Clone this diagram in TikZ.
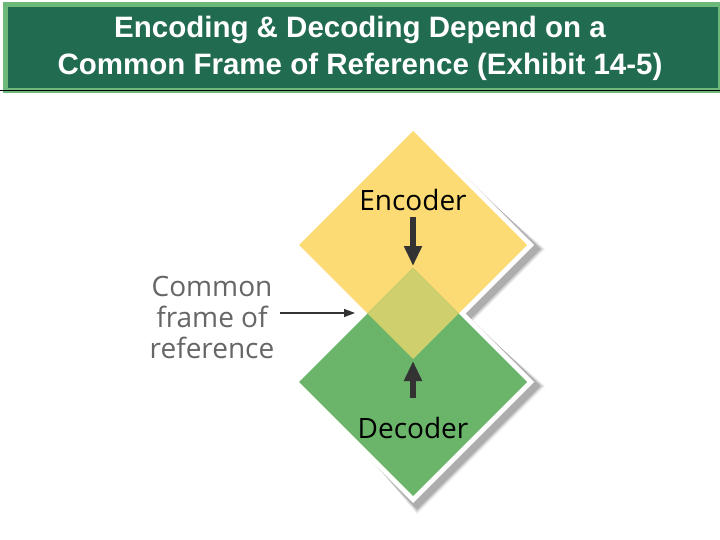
\documentclass[tikz,border=0pt]{standalone}
\usepackage{fontspec}
\setmainfont{Liberation Sans}
\newfontfamily\labfont{Open Sans}
\usetikzlibrary{arrows.meta}
\definecolor{hdark}{HTML}{216B50}
\definecolor{hlight}{HTML}{6DB97A}
\definecolor{ylw}{HTML}{FDDB74}
\definecolor{grn}{HTML}{6AB56A}
\definecolor{ovl}{HTML}{CFCF6E}
\definecolor{arr}{HTML}{333333}
\tikzset{
  lab/.style={font=\labfont\fontsize{28}{32}\selectfont, text=black, inner sep=0},
  side/.style={font=\labfont\fontsize{28}{32}\selectfont, text=black!60, align=center, inner sep=0},
  big/.style={-{Triangle[length=20pt,width=17pt]}, line width=6pt, draw=arr},
  thin/.style={-{Triangle[length=11pt,width=8pt]}, line width=1.2pt, draw=arr}
}
\begin{document}
\begin{tikzpicture}[x=1pt,y=-1pt]
\useasboundingbox (0,0) rectangle (720,540);
\fill[white] (0,0) rectangle (720,540);
% header
\node[draw=hlight, fill=hdark, line width=5pt, minimum width=715pt, minimum height=86pt, inner sep=0, anchor=north west] (hdr) at (2.5,2.5) {};
\draw[black, line width=1pt] (0,90.5) -- (720,90.5);
\node[font=\bfseries\fontsize{29.5}{37}\selectfont, text=white, align=center] (title) at (360,48) {Encoding \& Decoding Depend on a\\Common Frame of Reference (Exhibit 14-5)};
% soft shadows
\foreach \cy in {245,382}{
  \foreach \d/\o in {14/0.06,11/0.08,8/0.10,5/0.12}{
    \fill[black, opacity=\o] (417,\cy-121+\d) -- (538+\d/2,\cy+4) -- (417,\cy+125+\d/2) -- (296+\d,\cy+4) -- cycle;
  }
}
% white borders
\fill[white] (413,124) -- (534,245) -- (413,366) -- (292,245) -- cycle;
\fill[white] (413,261) -- (534,382) -- (413,503) -- (292,382) -- cycle;
% diamonds
\fill[ylw] (413,131) -- (527,245) -- (413,359) -- (299,245) -- cycle;
\fill[grn] (413,268) -- (527,382) -- (413,496) -- (299,382) -- cycle;
\fill[ovl] (413,268) -- (458.5,313.5) -- (413,359) -- (367.5,313.5) -- cycle;
\coordinate (otop) at (413,266);
\coordinate (obot) at (413,361);
\coordinate (oleft) at (355,313);
% labels
\node[lab] (enc) at (413,200) {Encoder};
\node[lab] (dec) at (413,428) {Decoder};
\node[side] (cf) at (212,317) {Common\\[-1pt]frame of\\[-1pt]reference};
\coordinate (cfr) at (280,313);
\draw[big] (413,217) -- (otop);
\draw[big] (413,398) -- (obot);
\draw[thin] (cfr) -- (oleft);
\end{tikzpicture}
\end{document}
